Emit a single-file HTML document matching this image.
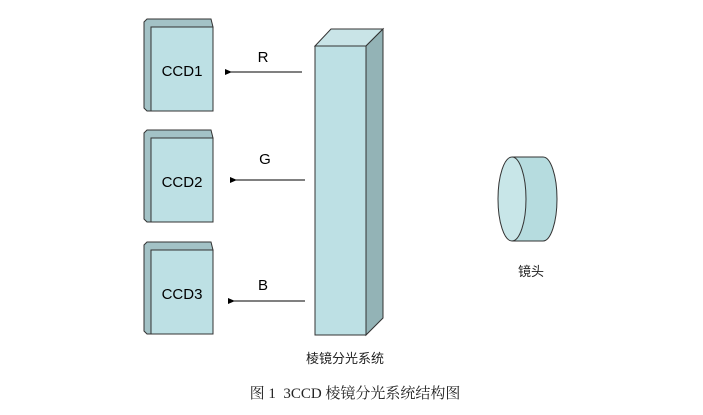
<!DOCTYPE html>
<html><head><meta charset="utf-8"><style>
body{margin:0;background:#fff}
svg{display:block}
</style></head><body>
<svg width="703" height="415" viewBox="0 0 703 415" xmlns="http://www.w3.org/2000/svg">
<defs><marker id="a" markerUnits="userSpaceOnUse" markerWidth="8" markerHeight="8" refX="1" refY="4" orient="auto"><path d="M7,1 L0,4 L7,7 Z" fill="#000"/></marker></defs>
<g stroke="#333" stroke-width="1">
<g id="c1">
<polygon points="144,22 147,19 211,19 213,27 151,27 151,111 147,111 144,108" fill="#a3c2c6"/>
<rect x="151" y="27" width="62" height="84" fill="#bde0e4"/>
</g>
<use href="#c1" y="111"/>
<use href="#c1" y="223"/>
<polygon points="315,46 331,29 383,29 366,46" fill="#c9e4e7"/>
<polygon points="366,46 383,29 383,318 366,335" fill="#93b3b6"/>
<rect x="315" y="46" width="51" height="289" fill="#bde0e4"/>
<path d="M512,157 L543,157 A14,42 0 0 1 543,241 L512,241" fill="#b6dcdf"/>
<ellipse cx="512" cy="199" rx="14" ry="42" fill="#c8e6e8"/>
</g>
<g stroke="#000" stroke-width="1">
<line x1="302" y1="72" x2="231" y2="72" marker-end="url(#a)"/>
<line x1="305" y1="180" x2="236" y2="180" marker-end="url(#a)"/>
<line x1="305" y1="301" x2="234" y2="301" marker-end="url(#a)"/>
</g>
<g font-family="Liberation Sans, sans-serif" font-size="15" text-anchor="middle" fill="#000">
<text x="182" y="76">CCD1</text><text x="182" y="187">CCD2</text><text x="182" y="299">CCD3</text>
<text x="263" y="62">R</text><text x="265" y="164">G</text><text x="263" y="290">B</text>
</g>
<g font-family="Liberation Sans, 'Noto Sans CJK SC', sans-serif" font-size="13" text-anchor="middle" fill="#222">
<text x="531" y="276">镜头</text>
<text x="345" y="363">棱镜分光系统</text>
</g>
<text x="355" y="398" font-family="'Liberation Serif', 'Noto Serif CJK SC', serif" font-size="15" text-anchor="middle" fill="#222" xml:space="preserve">图 1  3CCD 棱镜分光系统结构图</text>
</svg>
</body></html>
